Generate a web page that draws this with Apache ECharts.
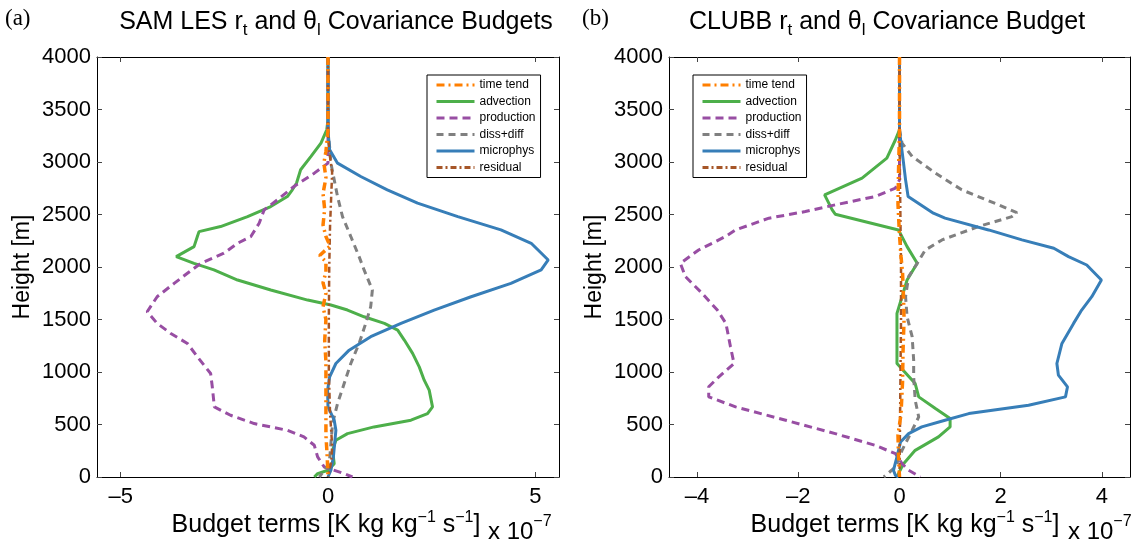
<!DOCTYPE html>
<html>
<head>
<meta charset="utf-8">
<script src="https://cdn.jsdelivr.net/npm/echarts@6/dist/echarts.min.js"></script>
<style>html,body{margin:0;padding:0;background:#fff}#c{width:1138px;height:545px}</style>
</head>
<body>
<div id="c"></div>
<script>
// ---- data: [value (x 1e-7 K kg/kg/s), height (m)] ----
const seriesNames = ['time tend', 'advection', 'production', 'diss+diff', 'microphys', 'residual'];
const heightTicks = [0, 500, 1000, 1500, 2000, 2500, 3000, 3500, 4000];
const samXTicks = [-5, 0, 5];
const clubbXTicks = [-4, -2, 0, 2, 4];

// SAM LES (panel a)
const samTime = [[0,4000],[0,3300],[-0.05,3100],[-0.1,2990],[-0.05,2850],[-0.12,2700],[-0.08,2550],[-0.12,2400],[-0.05,2290],[0.05,2200],[-0.2,2110],[-0.05,2050],[-0.05,1950],[-0.12,1850],[-0.05,1750],[-0.12,1620],[-0.05,1500],[-0.08,1300],[-0.05,1100],[-0.05,900],[-0.05,600],[-0.05,400],[-0.02,200],[0,0]];
const samAdv = [[0,4000],[0,3400],[-0.03,3307],[-0.17,3180],[-0.41,3053],[-0.66,2926],[-0.76,2798],[-0.86,2735],[-0.98,2671],[-1.38,2576],[-1.94,2480],[-2.59,2385],[-3.11,2337],[-3.15,2290],[-3.23,2194],[-3.66,2099],[-3.23,2035],[-2.75,1972],[-2.18,1876],[-1.38,1781],[-0.49,1685],[0.07,1638],[0.47,1590],[0.87,1526],[1.36,1463],[1.68,1399],[1.84,1304],[2.04,1177],[2.2,1049],[2.32,922],[2.44,827],[2.52,668],[2.4,604],[2.0,541],[1.11,477],[0.47,413],[0.19,350],[0.11,254],[0.15,127],[0,64],[-0.25,32],[-0.33,0]];
const samProd = [[0,4000],[0,3100],[0,2989],[-0.33,2894],[-0.82,2767],[-1.22,2640],[-1.54,2544],[-1.66,2417],[-1.86,2290],[-2.18,2226],[-2.51,2131],[-3.07,2035],[-3.39,1940],[-3.71,1844],[-4.12,1717],[-4.36,1574],[-4.12,1463],[-3.79,1367],[-3.39,1272],[-3.15,1145],[-2.83,986],[-2.79,859],[-2.74,668],[-2.35,588],[-1.78,509],[-0.98,445],[-0.58,382],[-0.33,302],[-0.25,191],[-0.09,95],[0.39,32],[0.59,0]];
const samDiss = [[0,4000],[0,3300],[0.05,3100],[0.07,2989],[0.15,2830],[0.23,2671],[0.35,2480],[0.55,2290],[0.75,2099],[0.87,1972],[1.07,1781],[1.03,1622],[0.91,1463],[0.75,1272],[0.55,1081],[0.39,890],[0.23,700],[0.11,509],[0.07,318],[0.03,127],[-0.21,0]];
const samMicro = [[0,4000],[0,3400],[0.01,3250],[0.04,3116],[0.23,2989],[0.79,2862],[1.43,2735],[2.16,2608],[3.13,2480],[4.17,2353],[4.9,2226],[5.31,2067],[5.14,1972],[4.41,1844],[3.45,1717],[2.56,1590],[1.76,1463],[1.03,1336],[0.51,1208],[0.19,1081],[0.04,954],[-0.01,827],[0,668],[0.15,541],[0.19,445],[0.16,318],[0.13,191],[0.07,64],[0,0]];
const samResid = [[0,4000],[0,3300],[0.03,3100],[0.1,2900],[0.08,2700],[0.05,2400],[0.03,2000],[0.02,1500],[0.02,1000],[0.05,600],[0.1,300],[0.08,150],[0,0]];

// CLUBB (panel b)
const clTime = [[0,4000],[0,3300],[-0.02,2900],[-0.03,2600],[0,2300],[0.03,2100],[0.06,1950],[0.08,1700],[0.09,1500],[0.07,1200],[0.06,900],[0.03,600],[-0.03,400],[-0.02,200],[0,0]];
const clAdv = [[0,4000],[0,3307],[-0.08,3212],[-0.25,3037],[-0.74,2846],[-1.48,2687],[-1.33,2544],[-1.27,2503],[-0.02,2353],[0.15,2194],[0.35,2035],[0.15,1876],[0.05,1717],[-0.05,1558],[-0.05,1336],[-0.05,1081],[0.31,890],[0.38,763],[0.71,652],[1.0,557],[1.0,477],[0.77,382],[0.31,254],[0.08,127],[-0.02,32],[-0.05,0]];
const clProd = [[0,4000],[0,2830],[-0.08,2751],[-0.48,2671],[-1.27,2592],[-1.86,2528],[-2.58,2465],[-3.24,2353],[-3.44,2290],[-3.97,2162],[-4.33,2035],[-4.23,1908],[-3.9,1749],[-3.6,1590],[-3.43,1463],[-3.34,1240],[-3.27,1081],[-3.57,954],[-3.77,859],[-3.77,763],[-3.24,668],[-2.25,541],[-1.27,413],[-0.48,302],[-0.08,222],[0.05,127],[0.18,64],[0.41,0]];
const clDiss = [[0,4000],[0,3307],[0.05,3180],[0.25,3053],[0.71,2894],[1.23,2735],[1.96,2592],[2.32,2518],[2.22,2480],[1.56,2385],[0.84,2258],[0.51,2162],[0.35,2035],[0.18,1908],[0.12,1717],[0.15,1526],[0.25,1336],[0.28,1113],[0.28,954],[0.31,732],[0.38,572],[0.25,445],[0.05,254],[-0.08,95],[-0.31,0]];
const clMicro = [[0,4000],[0,3300],[0.03,3180],[0.08,2989],[0.12,2830],[0.17,2671],[0.67,2512],[0.9,2465],[1.76,2353],[2.42,2258],[3.05,2178],[3.34,2099],[3.7,2019],[3.99,1876],[3.8,1717],[3.6,1590],[3.44,1463],[3.21,1272],[3.11,1081],[3.14,970],[3.32,859],[3.28,763],[2.55,684],[1.37,604],[0.9,541],[0.44,477],[0.18,413],[0.02,334],[-0.05,191],[-0.12,64],[-0.08,16],[-0.02,0]];
const clResid = [[0,4000],[0,3300],[0.01,2800],[0.02,2400],[0.03,2000],[0.03,1500],[0.02,1000],[0.01,500],[0,0]];

const samData = [samTime, samAdv, samProd, samDiss, samMicro, samResid];
const clData = [clTime, clAdv, clProd, clDiss, clMicro, clResid];

// ---- styles ----
const FONT = '"Liberation Sans", Arial, Helvetica, sans-serif';
const SERIF = '"Liberation Serif", "DejaVu Serif", serif';
const styles = [
  {color: '#FF7F00', width: 3.5, type: [8, 4, 2, 4]},
  {color: '#4DAF4A', width: 3, type: 'solid'},
  {color: '#984EA3', width: 3, type: [8, 5]},
  {color: '#808080', width: 3, type: [7, 5]},
  {color: '#377EB8', width: 3, type: 'solid'},
  {color: '#A65628', width: 2.5, type: [6, 3, 2, 3]}
];

const grids = [
  {left: 97, top: 57, width: 462, height: 420},
  {left: 669, top: 57, width: 461, height: 420}
];
const xRanges = [[-5.57, 5.57], [-4.555, 4.555]];
const xTickSets = [samXTicks, clubbXTicks];
const fmt = v => (v < 0 ? '\u2013' + (-v) : String(v));

const xAxes = [], yAxes = [];
for (let g = 0; g < 2; g++) {
  const common = {
    type: 'value', gridIndex: g, min: xRanges[g][0], max: xRanges[g][1],
    splitLine: {show: false},
    axisLine: {show: true, onZero: false, lineStyle: {color: '#000', width: 1}},
    axisTick: {show: true, inside: true, length: 5, lineStyle: {color: '#444'}, customValues: xTickSets[g]}
  };
  xAxes.push(Object.assign({}, common, {
    position: 'bottom',
    axisLabel: {show: true, customValues: xTickSets[g], formatter: fmt, fontSize: 22, color: '#000', fontFamily: FONT, margin: 9}
  }));
  xAxes.push(Object.assign({}, common, {position: 'top', axisLabel: {show: false}}));
  const ycommon = {
    type: 'value', gridIndex: g, min: 0, max: 4000, interval: 500,
    splitLine: {show: false},
    axisLine: {show: true, onZero: false, lineStyle: {color: '#000', width: 1}},
    axisTick: {show: true, inside: true, length: 5, lineStyle: {color: '#444'}}
  };
  yAxes.push(Object.assign({}, ycommon, {
    position: 'left',
    name: 'Height [m]', nameLocation: 'middle', nameGap: 63,
    nameTextStyle: {fontSize: 23, color: '#000', fontFamily: FONT},
    axisLabel: {show: true, fontSize: 22, color: '#000', fontFamily: FONT, margin: 6,
      formatter: v => String(v)}
  }));
  yAxes.push(Object.assign({}, ycommon, {position: 'right', axisLabel: {show: false}}));
}

const series = [];
[samData, clData].forEach((set, g) => {
  set.forEach((d, i) => {
    series.push({
      type: 'line', name: seriesNames[i], xAxisIndex: g * 2, yAxisIndex: g * 2,
      data: d, showSymbol: false, symbol: 'none', smooth: false,
      lineStyle: styles[i], itemStyle: {color: styles[i].color},
      emphasis: {disabled: true}, animation: false, z: 2 + (i === 0 ? 3 : 0)
    });
  });
});

const legendCommon = {
  orient: 'vertical', top: 75, data: seriesNames,
  itemWidth: 38, itemHeight: 12, itemGap: 4.5,
  padding: [4, 5, 4, 8], borderColor: '#000', borderWidth: 1, backgroundColor: '#fff',
  textStyle: {fontSize: 12, color: '#000', fontFamily: FONT},
  itemStyle: {opacity: 0},
  lineStyle: {width: 3},
  selectedMode: false
};

const titleRich = {
  m: {fontSize: 25, fontFamily: FONT, color: '#000'},
  s: {fontSize: 17, fontFamily: FONT, color: '#000', padding: [17, 0, 0, 0]}
};
const labRich = {
  m: {fontSize: 25, fontFamily: FONT, color: '#000'},
  p: {fontSize: 16, fontFamily: FONT, color: '#000', padding: [0, 0, 14, 0]}
};
const expRich = {
  m: {fontSize: 24, fontFamily: FONT, color: '#000'},
  p: {fontSize: 16, fontFamily: FONT, color: '#000', padding: [0, 0, 20, 0]}
};

const graphic = [
  {type: 'text', x: 5, y: 19, style: {text: '(a)', font: '23px ' + SERIF, fill: '#000', textAlign: 'left', textVerticalAlign: 'middle'}},
  {type: 'text', x: 582, y: 19, style: {text: '(b)', font: '23px ' + SERIF, fill: '#000', textAlign: 'left', textVerticalAlign: 'middle'}},
  {type: 'text', x: 336, y: 22, style: {text: '{m|SAM LES r}{s|t}{m| and \u03b8}{s|l}{m| Covariance Budgets}', rich: titleRich, textAlign: 'center', textVerticalAlign: 'middle'}},
  {type: 'text', x: 887, y: 22, style: {text: '{m|CLUBB r}{s|t}{m| and \u03b8}{s|l}{m| Covariance Budget}', rich: titleRich, textAlign: 'center', textVerticalAlign: 'middle'}},
  {type: 'text', x: 326, y: 525, style: {text: '{m|Budget terms [K kg kg}{p|\u22121}{m| s}{p|\u22121}{m|]}', rich: labRich, textAlign: 'center', textVerticalAlign: 'middle'}},
  {type: 'text', x: 905, y: 525, style: {text: '{m|Budget terms [K kg kg}{p|\u22121}{m| s}{p|\u22121}{m|]}', rich: labRich, textAlign: 'center', textVerticalAlign: 'middle'}},
  {type: 'text', x: 488, y: 532, style: {text: '{m|x 10}{p|\u22127}', rich: expRich, textAlign: 'left', textVerticalAlign: 'middle'}},
  {type: 'text', x: 1068, y: 532, style: {text: '{m|x 10}{p|\u22127}', rich: expRich, textAlign: 'left', textVerticalAlign: 'middle'}}
];

const chart = echarts.init(document.getElementById('c'), null, {renderer: 'canvas'});
chart.setOption({
  animation: false,
  backgroundColor: '#fff',
  grid: grids,
  xAxis: xAxes,
  yAxis: yAxes,
  legend: [
    Object.assign({}, legendCommon, {left: 427}),
    Object.assign({}, legendCommon, {left: 693})
  ],
  graphic: graphic,
  series: series
});
</script>
</body>
</html>
